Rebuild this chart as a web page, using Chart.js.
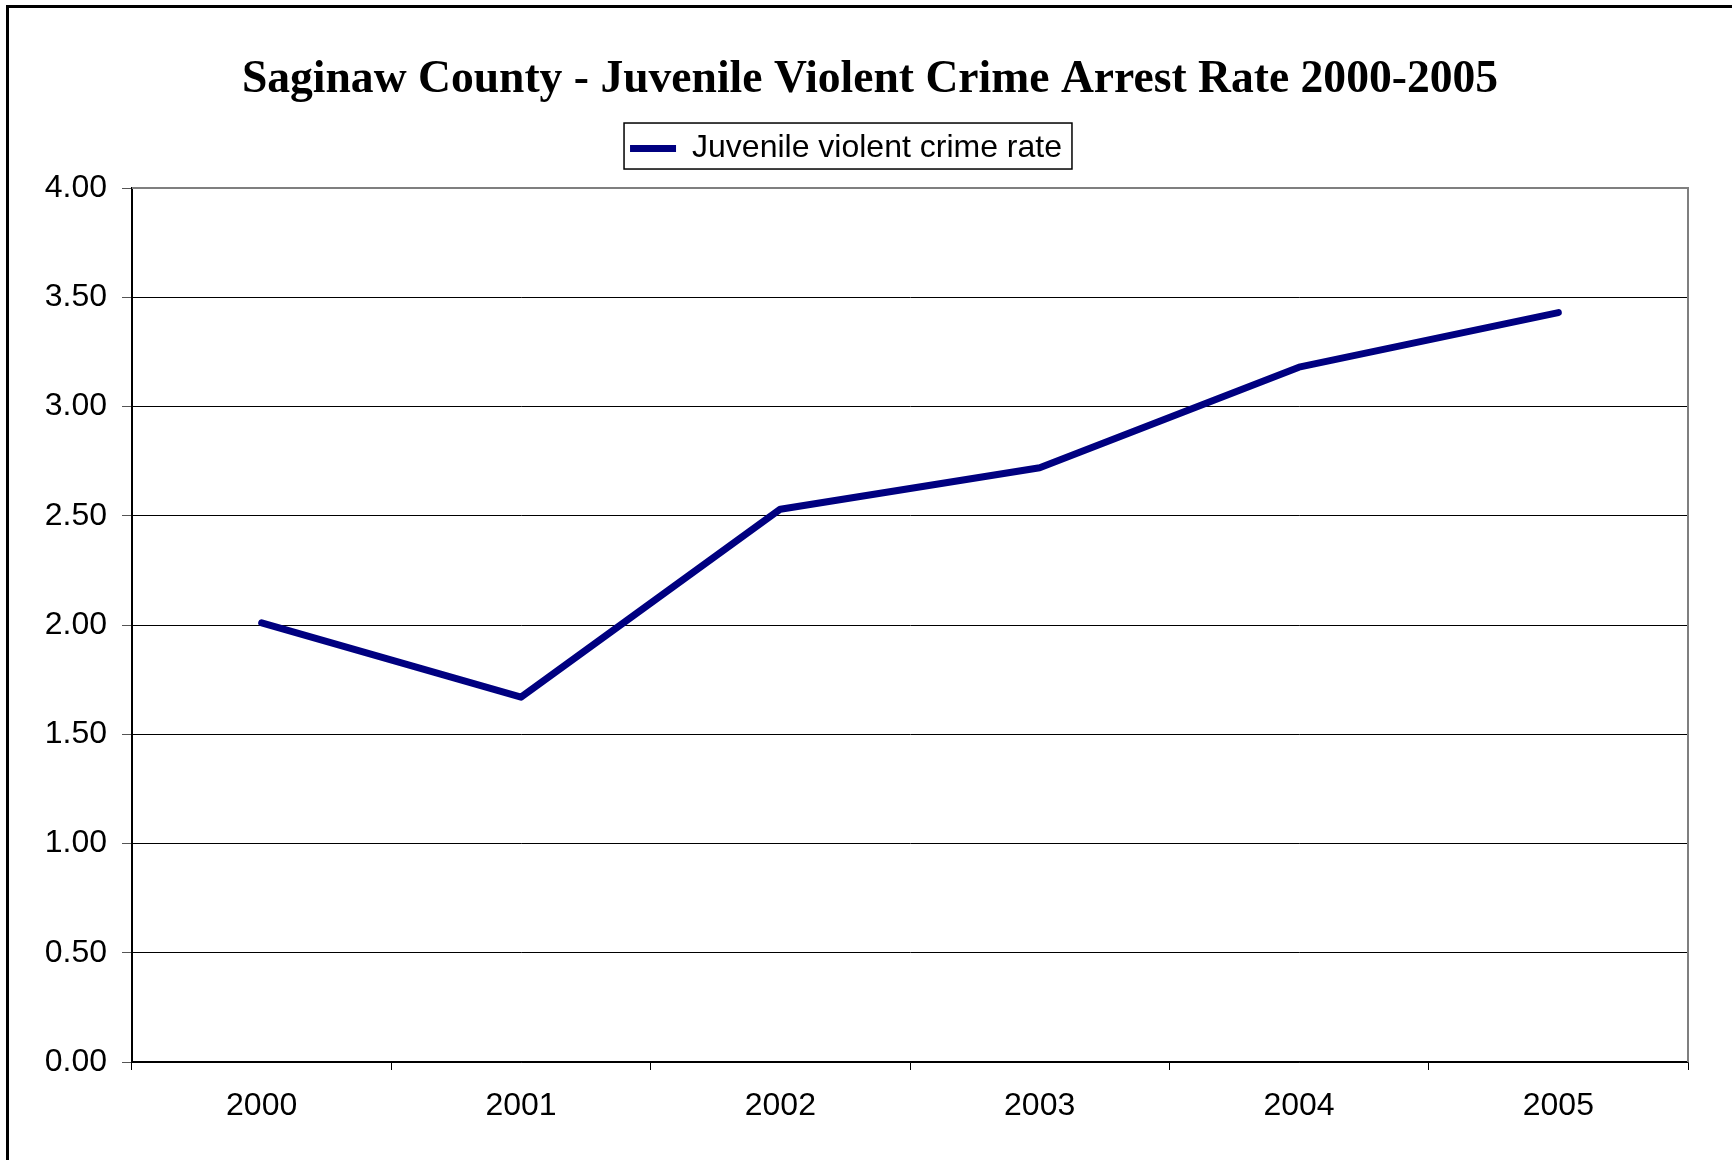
<!DOCTYPE html>
<html>
<head>
<meta charset="utf-8">
<script src="https://cdn.jsdelivr.net/npm/chart.js@4.4.1/dist/chart.umd.min.js"></script>
<style>
  html, body { margin: 0; padding: 0; background: #fff; overflow: hidden; }
  #wrap { position: absolute; left: 0; top: 0; width: 1732px; height: 1160px; }
  #frame { position: absolute; left: 6px; top: 5px; width: 1800px; height: 1300px;
           border: 3px solid #000; pointer-events: none; }
</style>
</head>
<body>
<div id="wrap"><canvas id="chart" width="1732" height="1160"></canvas></div>
<div id="frame"></div>
<script>
const years = ['2000', '2001', '2002', '2003', '2004', '2005'];
const crimeRate = [2.01, 1.67, 2.53, 2.72, 3.18, 3.43];
const seriesName = 'Juvenile violent crime rate';
const chartTitle = 'Saginaw County - Juvenile Violent Crime Arrest Rate 2000-2005';

var lineColor = '#000080';

// legend box border + plot frame (top/right), Excel style
const excelFrame = {
    id: 'excelFrame',
    afterLayout(chart) {
        // title is centred on the whole page in the original, not on the plot block
        chart.titleBlock.left += 26;
        chart.titleBlock.right += 26;
        chart.legend.left += 2;
        chart.legend.right += 2;
    },
    afterDraw(chart) {
        const ctx = chart.ctx;
        const area = chart.chartArea;
        ctx.save();
        ctx.strokeStyle = '#7f7f7f';
        ctx.lineWidth = 2;
        ctx.beginPath();
        ctx.moveTo(area.left, area.top);
        ctx.lineTo(area.right, area.top);
        ctx.lineTo(area.right, area.bottom);
        ctx.stroke();

        const hb = chart.legend.legendHitBoxes[0];
        if (hb) {
            ctx.strokeStyle = '#000';
            ctx.lineWidth = 1.5;
            ctx.strokeRect(hb.left - 6, hb.top - 9.5, hb.width + 16, 46);
        }
        ctx.restore();
    }
};

new Chart(document.getElementById('chart'), {
    type: 'line',
    data: {
        labels: years,
        datasets: [{
            label: seriesName,
            data: crimeRate,
            borderColor: lineColor,
            backgroundColor: lineColor,
            borderWidth: 7,
            borderCapStyle: 'round',
            borderJoinStyle: 'round',
            pointRadius: 0,
            pointStyle: 'line',
            tension: 0,
        }]
    },
    options: {
        responsive: false,
        animation: false,
        layout: {
            padding: { left: 0, right: 44, top: 0, bottom: 0 }
        },
        plugins: {
            title: {
                display: true,
                text: chartTitle,
                color: '#000',
                font: { family: 'Liberation Serif', size: 45.6, weight: 'bold' },
                padding: { top: 53.3, bottom: 14 }
            },
            legend: {
                display: true,
                weight: 1750,
                labels: {
                    usePointStyle: true,
                    pointStyleWidth: 46,
                    padding: 10.5,
                    color: '#000',
                    font: { family: 'Liberation Sans', size: 32 }
                }
            },
            // empty subtitle used only as a spacer between legend and plot
            subtitle: {
                display: true,
                text: '',
                font: { size: 1, lineHeight: 1 },
                padding: { top: 12.5, bottom: 0 }
            },
            tooltip: { enabled: false }
        },
        scales: {
            x: {
                offset: true,
                grid: {
                    offset: true,
                    drawOnChartArea: false,
                    drawTicks: true,
                    tickLength: 8,
                    tickColor: '#000'
                },
                border: { color: '#000', width: 1.5 },
                ticks: {
                    color: '#000',
                    padding: 17,
                    font: { family: 'Liberation Sans', size: 32 }
                },
                afterFit: (scale) => { scale.height = 98; }
            },
            y: {
                min: 0,
                max: 4,
                grid: {
                    color: '#000',
                    lineWidth: 1,
                    tickLength: 10,
                    tickColor: '#555'
                },
                border: { color: '#000', width: 2 },
                ticks: {
                    stepSize: 0.5,
                    color: '#000',
                    padding: 15,
                    font: { family: 'Liberation Sans', size: 32 },
                    callback: (v) => Number(v).toFixed(2)
                },
                afterFit: (scale) => { scale.width = 132; }
            }
        }
    },
    plugins: [excelFrame]
});
</script>
</body>
</html>
